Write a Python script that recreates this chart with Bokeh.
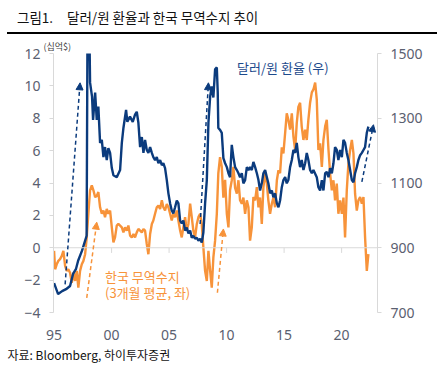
from bokeh.plotting import figure
from bokeh.layouts import column
from bokeh.models import (LinearAxis, Range1d, FixedTicker, Label, Arrow, NormalHead,
                          ColumnDataSource, Span, Title, Div)
from bokeh.embed import file_html
from bokeh.resources import INLINE

# ---------------- text ----------------
title_num = "그림1."
title_text = "달러/원 환율과 한국 무역수지 추이"
source_text = "자료: Bloomberg, 하이투자증권"
unit_text = "(십억$)"
krw_label = "달러/원 환율 (우)"
tb_label_1 = "한국 무역수지"
tb_label_2 = "(3개월 평균, 좌)"

# ---------------- ticks ----------------
x_ticks = [1995, 2000, 2005, 2010, 2015, 2020]
x_tick_labels = ["95", "00", "05", "10", "15", "20"]
left_ticks = [-4, -2, 0, 2, 4, 6, 8, 10, 12]
right_ticks = [700, 900, 1100, 1300, 1500]

# ---------------- USD/KRW (right axis) ----------------
krw_years = [1995.0, 1995.35, 1995.7, 1996.04, 1996.39, 1996.65, 1996.91, 1997.09, 1997.43, 1997.7,
             1997.83, 1997.92, 1998.04, 1998.13, 1998.3, 1998.39, 1998.57, 1998.71, 1998.85, 1999.0,
             1999.15, 1999.29, 1999.43, 1999.58, 1999.72, 1999.87, 2000.02, 2000.16, 2000.45, 2000.74,
             2000.89, 2001.03, 2001.26, 2001.37, 2001.6, 2001.84, 2002.04, 2002.19, 2002.33, 2002.48,
             2002.63, 2002.77, 2002.91, 2003.06, 2003.2, 2003.35, 2003.5, 2003.63, 2003.78, 2003.93,
             2004.07, 2004.22, 2004.37, 2004.5, 2004.65, 2004.8, 2004.94, 2005.09, 2005.23, 2005.37,
             2005.52, 2005.67, 2005.81, 2005.96, 2006.1, 2006.24, 2006.39, 2006.54, 2006.68, 2006.83,
             2006.97, 2007.11, 2007.26, 2007.41, 2007.55, 2007.7, 2007.84, 2007.98, 2008.13, 2008.28,
             2008.42, 2008.57, 2008.71, 2008.85, 2009.0, 2009.15, 2009.23, 2009.28, 2009.43, 2009.58,
             2009.72, 2009.87, 2010.02, 2010.16, 2010.3, 2010.45, 2010.59, 2010.74, 2010.89, 2011.03,
             2011.17, 2011.32, 2011.46, 2011.61, 2011.76, 2011.9, 2012.04, 2012.19, 2012.33, 2012.48,
             2012.63, 2012.77, 2012.91, 2013.06, 2013.2, 2013.35, 2013.5, 2013.63, 2013.78, 2013.93,
             2014.07, 2014.22, 2014.37, 2014.51, 2014.65, 2014.8, 2014.94, 2015.09, 2015.23, 2015.37,
             2015.52, 2015.67, 2015.81, 2015.96, 2016.1, 2016.24, 2016.39, 2016.53, 2016.68, 2016.83,
             2016.97, 2017.11, 2017.26, 2017.41, 2017.55, 2017.84, 2017.98, 2018.13, 2018.28, 2018.42,
             2018.57, 2018.71, 2018.86, 2019.0, 2019.15, 2019.29, 2019.43, 2019.58, 2019.72, 2019.87,
             2020.02, 2020.16, 2020.3, 2020.45, 2020.59, 2020.74, 2020.89, 2021.03, 2021.17, 2021.32,
             2021.46, 2021.61, 2021.76, 2021.9, 2022.04, 2022.19, 2022.33]
krw = [791, 757, 766, 772, 782, 819, 835, 860, 891, 922,
       937, 1700, 1650, 1410, 1367, 1295, 1379, 1295, 1336, 1224,
       1233, 1180, 1211, 1171, 1208, 1193, 1146, 1124, 1118, 1140,
       1224, 1270, 1326, 1289, 1305, 1289, 1311, 1320, 1286, 1211,
       1242, 1193, 1233, 1202, 1193, 1211, 1193, 1180, 1171, 1180,
       1161, 1171, 1155, 1161, 1146, 1109, 1068, 1037, 1015, 1006,
       1025, 1046, 1037, 984, 975, 984, 953, 962, 944, 953,
       931, 937, 928, 931, 922, 928, 916, 947, 1037, 1109,
       1286, 1367, 1398, 1364, 1451, 1457, 1379, 1270, 1264, 1255,
       1177, 1161, 1149, 1130, 1118, 1218, 1180, 1149, 1140, 1130,
       1118, 1130, 1099, 1109, 1149, 1140, 1149, 1140, 1165, 1149,
       1130, 1109, 1077, 1099, 1130, 1140, 1118, 1099, 1068, 1077,
       1056, 1068, 1037, 1025, 1046, 1087, 1109, 1118, 1099, 1109,
       1149, 1171, 1202, 1193, 1224, 1180, 1149, 1171, 1140, 1161,
       1193, 1171, 1140, 1130, 1140, 1118, 1087, 1077, 1109, 1077,
       1130, 1134, 1118, 1146, 1130, 1161, 1211, 1202, 1171, 1202,
       1180, 1233, 1224, 1193, 1171, 1140, 1109, 1102, 1130, 1149,
       1171, 1186, 1193, 1202, 1211, 1255, 1274]

# ---------------- Trade balance, 3m avg (left axis, bn USD) ----------------
tb_years = [1995.0, 1995.09, 1995.23, 1995.37, 1995.52, 1995.67, 1995.81, 1995.96, 1996.1, 1996.24,
            1996.39, 1996.54, 1996.68, 1996.83, 1996.97, 1997.11, 1997.26, 1997.41, 1997.55, 1997.7,
            1997.84, 1997.98, 1998.13, 1998.28, 1998.42, 1998.57, 1998.71, 1998.85, 1999.0, 1999.15,
            1999.29, 1999.43, 1999.58, 1999.72, 1999.87, 2000.02, 2000.16, 2000.3, 2000.45, 2000.59,
            2000.74, 2000.89, 2001.03, 2001.17, 2001.32, 2001.46, 2001.61, 2001.76, 2001.9, 2002.04,
            2002.19, 2002.33, 2002.48, 2002.63, 2002.77, 2002.91, 2003.06, 2003.2, 2003.35, 2003.5,
            2003.63, 2003.78, 2003.93, 2004.07, 2004.22, 2004.37, 2004.5, 2004.65, 2004.8, 2004.94,
            2005.09, 2005.23, 2005.37, 2005.52, 2005.67, 2005.81, 2005.96, 2006.1, 2006.24, 2006.39,
            2006.54, 2006.68, 2006.83, 2006.97, 2007.11, 2007.26, 2007.41, 2007.55, 2007.7, 2007.84,
            2007.98, 2008.13, 2008.28, 2008.42, 2008.57, 2008.71, 2008.85, 2009.0, 2009.15, 2009.28,
            2009.43, 2009.58, 2009.72, 2009.87, 2010.02, 2010.16, 2010.3, 2010.45, 2010.59, 2010.74,
            2010.89, 2011.03, 2011.17, 2011.32, 2011.46, 2011.61, 2011.76, 2011.9, 2012.04, 2012.19,
            2012.33, 2012.48, 2012.63, 2012.77, 2012.91, 2013.06, 2013.2, 2013.35, 2013.5, 2013.63,
            2013.78, 2013.93, 2014.07, 2014.22, 2014.37, 2014.51, 2014.65, 2014.8, 2014.94, 2015.09,
            2015.23, 2015.37, 2015.52, 2015.67, 2015.81, 2015.96, 2016.1, 2016.24, 2016.39, 2016.53,
            2016.68, 2016.83, 2016.97, 2017.11, 2017.26, 2017.41, 2017.55, 2017.7, 2017.84, 2017.98,
            2018.13, 2018.28, 2018.42, 2018.57, 2018.71, 2018.86, 2019.0, 2019.15, 2019.29, 2019.43,
            2019.58, 2019.72, 2019.87, 2020.02, 2020.16, 2020.3, 2020.45, 2020.59, 2020.74, 2020.89,
            2021.03, 2021.17, 2021.32, 2021.46, 2021.61, 2021.76, 2021.9, 2022.04, 2022.19, 2022.33]
tb = [-0.19, -1.33, -1.02, -0.81, -0.7, -0.5, -0.19, -1.12, -1.43, -1.33,
      -1.54, -2.16, -1.54, -2.05, -1.43, -2.47, -1.43, -1.02, -0.81, -0.4,
      0.64, 2.1, 3.55, 3.86, 3.55, 3.13, 3.2, 3.44, 2.5, 2.1,
      2.3, 1.89, 2.4, 2.1, 2.3, 1.26, 0.33, 0.64, 1.37, 1.47,
      1.37, 1.26, 0.95, 1.26, 1.06, 1.37, 0.75, 0.64, 0.85, 0.64,
      0.95, 1.16, 1.06, 0.95, 1.16, 1.06, 0.23, -0.4, 0.85, 1.47,
      1.68, 2.1, 2.5, 2.6, 2.4, 2.93, 2.5, 2.3, 2.7, 2.5,
      2.1, 1.68, 2.1, 1.89, 2.3, 1.68, 1.06, 0.64, 1.26, 1.89,
      1.06, 1.47, 2.72, 1.89, 1.06, 0.64, 1.47, 1.89, 2.1, 1.47,
      0.02, -1.43, -2.05, -0.19, -1.43, -2.47, -0.6, 0.44, 2.1, 4.6,
      5.6, 5.0, 3.1, 4.2, 2.1, 1.26, 3.55, 4.17, 5.0, 3.7,
      3.34, 4.17, 2.93, 2.72, 3.1, 2.1, 2.93, 2.5, 0.44, 1.26,
      3.13, 2.93, 3.75, 2.5, 3.1, 1.47, 3.75, 4.6, 3.96, 2.93,
      2.1, 2.72, 3.1, 2.5, 4.17, 4.79, 4.6, 6.2, 5.83, 7.1,
      8.3, 7.9, 7.3, 8.3, 6.87, 6.04, 7.7, 8.7, 8.96, 7.5,
      6.66, 7.3, 6.66, 7.9, 8.96, 9.6, 9.78, 10.2, 9.15, 6.04,
      6.45, 5.0, 6.66, 7.5, 7.9, 6.04, 4.58, 3.55, 4.17, 2.93,
      3.96, 2.1, 2.93, 2.1, 3.1, 0.64, 3.55, 5.2, 6.04, 6.66,
      5.83, 3.34, 2.3, 2.93, 3.13, 2.72, 3.13, 0.64, -1.43, -0.4]

# ---------------- dashed arrows ----------------
navy_arrow_x0 = [1995.96, 2007.70, 2021.76]
navy_arrow_y0 = [-2.26, 1.47, 4.07]
navy_arrow_x1 = [1997.26, 2008.42, 2022.77]
navy_arrow_y1 = [10.19, 10.19, 7.60]
orange_arrow_x0 = [1997.84, 2009.20]
orange_arrow_y0 = [-3.10, -2.78]
orange_arrow_x1 = [1998.71, 2009.72]
orange_arrow_y1 = [1.58, 1.16]

NAVY = "#0b3b7d"
NAVY_TXT = "#1d4a8c"
ORANGE = "#f7933a"
AXIS_GRAY = "#d9d9d9"
TICK_TXT = "#5a6070"
NUM_FONT = "Noto Sans"
KR_FONT = "Noto Sans CJK KR"

HEADER_H = 36

# ---------------- header (title + rule) as HTML ----------------
header_html = (
    '<div style="position:relative;width:439px;height:%dpx;font-family:\'%s\';color:#111;">'
    '<span style="position:absolute;left:17px;top:9px;font-size:13.5px;line-height:16px;white-space:nowrap;">%s</span>'
    '<span style="position:absolute;left:67px;top:9px;font-size:13.5px;line-height:16px;white-space:nowrap;">%s</span>'
    '<div style="position:absolute;left:7px;top:32px;width:430px;height:1.5px;background:#000;"></div>'
    '</div>' % (HEADER_H, KR_FONT, title_num, title_text)
)
hdr = Div(text=header_html, width=439, height=HEADER_H, margin=0)

# ---------------- main chart ----------------
p = figure(width=439, height=376 - HEADER_H,
           x_range=Range1d(1994.95, 2023.12), y_range=Range1d(-4, 12),
           output_backend="svg", toolbar_location=None,
           min_border_left=53, min_border_right=62, min_border_top=53 - HEADER_H,
           min_border_bottom=64,
           outline_line_color=None, background_fill_color="white", border_fill_color="white")
p.title.text = unit_text
p.title.align = "left"
p.title.offset = -10
p.title.text_font = KR_FONT
p.title.text_font_size = "9px"
p.title.text_font_style = "normal"
p.title.text_color = "#404040"
p.title.standoff = 1
p.extra_y_ranges = {"krw": Range1d(700, 1500)}
p.xgrid.visible = False
p.ygrid.visible = False

# bottom labels only
xa = p.xaxis[0]
xa.ticker = FixedTicker(ticks=x_ticks)
xa.major_label_overrides = {t: l for t, l in zip(x_ticks, x_tick_labels)}
xa.axis_line_color = None
xa.major_tick_line_color = None
xa.minor_tick_line_color = None
xa.major_label_standoff = 11
xa.major_label_text_font_size = "14px"
xa.major_label_text_color = TICK_TXT
xa.major_label_text_font = NUM_FONT

# left axis
ya = p.yaxis[0]
ya.ticker = FixedTicker(ticks=left_ticks)
ya.axis_line_color = AXIS_GRAY
ya.major_tick_line_color = AXIS_GRAY
ya.major_tick_out = 4
ya.major_tick_in = 0
ya.minor_tick_line_color = None
ya.major_label_standoff = 9
ya.major_label_text_font_size = "14px"
ya.major_label_text_color = TICK_TXT
ya.major_label_text_font = NUM_FONT

# right axis
ra = LinearAxis(y_range_name="krw", ticker=FixedTicker(ticks=right_ticks),
                axis_line_color=AXIS_GRAY, major_tick_line_color=AXIS_GRAY,
                major_tick_out=4, major_tick_in=0, minor_tick_line_color=None,
                major_label_standoff=9, major_label_text_font_size="14px",
                major_label_text_color=TICK_TXT, major_label_text_font=NUM_FONT)
p.add_layout(ra, "right")

# footer
p.add_layout(Title(text=source_text, align="left", offset=-46, text_font=KR_FONT,
                   text_font_size="12px", text_font_style="normal", text_color="#111111",
                   standoff=2), "below")

# zero line with small tick marks
p.add_layout(Span(location=0, dimension="width", line_color=AXIS_GRAY, line_width=1))
p.segment(x0=x_ticks[1:], y0=[0] * 5, x1=x_ticks[1:], y1=[-0.32] * 5,
          line_color=AXIS_GRAY, line_width=1)

# series
p.line(tb_years, tb, line_color=ORANGE, line_width=2.4)
p.line(krw_years, krw, y_range_name="krw", line_color=NAVY, line_width=2.4)

# arrows
nsrc = ColumnDataSource(dict(x0=navy_arrow_x0, y0=navy_arrow_y0, x1=navy_arrow_x1, y1=navy_arrow_y1))
osrc = ColumnDataSource(dict(x0=orange_arrow_x0, y0=orange_arrow_y0, x1=orange_arrow_x1, y1=orange_arrow_y1))
p.add_layout(Arrow(end=NormalHead(size=7, fill_color=NAVY, line_color=NAVY),
                   x_start="x0", y_start="y0", x_end="x1", y_end="y1", source=nsrc,
                   line_color=NAVY, line_width=1.5, line_dash="4 3"))
p.add_layout(Arrow(end=NormalHead(size=7, fill_color=ORANGE, line_color=ORANGE),
                   x_start="x0", y_start="y0", x_end="x1", y_end="y1", source=osrc,
                   line_color=ORANGE, line_width=1.5, line_dash="4 3"))

# in-chart labels
p.add_layout(Label(x=2010.91, y=11.15, text=krw_label, text_font=KR_FONT, text_font_size="13px",
                   text_color=NAVY_TXT, text_baseline="middle", text_align="left"))
p.add_layout(Label(x=1999.43, y=-1.80, text=tb_label_1, text_font=KR_FONT, text_font_size="13px",
                   text_color=ORANGE, text_baseline="middle", text_align="left"))
p.add_layout(Label(x=1999.43, y=-2.74, text=tb_label_2, text_font=KR_FONT, text_font_size="13px",
                   text_color=ORANGE, text_baseline="middle", text_align="left"))

layout = column(hdr, p, spacing=0)
open("out.html", "w").write(file_html(layout, INLINE))
